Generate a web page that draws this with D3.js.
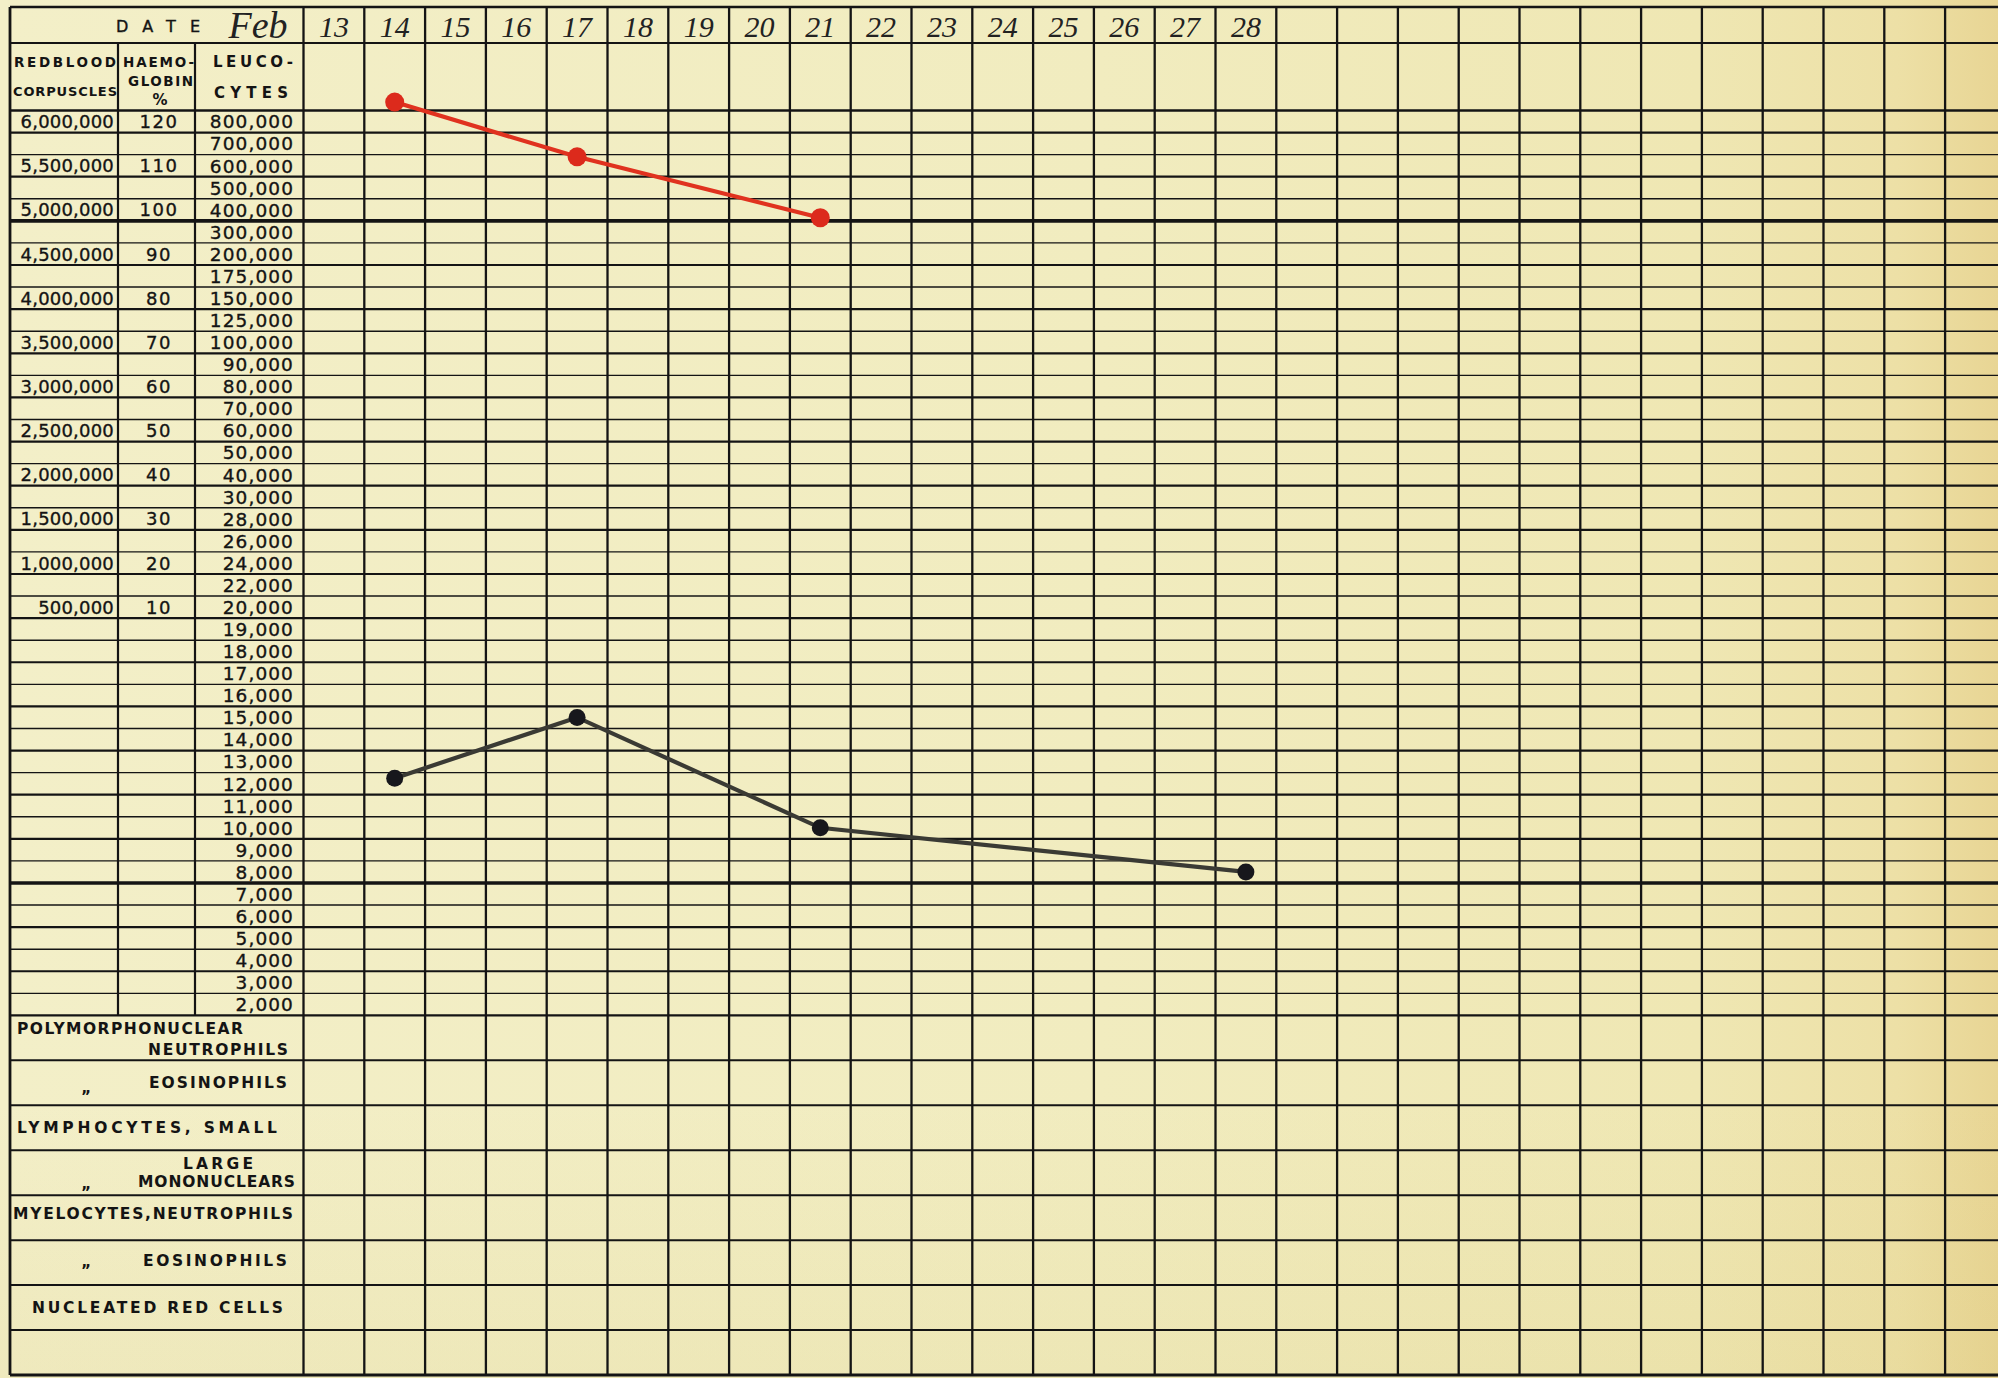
<!DOCTYPE html>
<html><head><meta charset="utf-8">
<script src="https://cdn.jsdelivr.net/npm/d3@7"></script>
<style>
html,body{margin:0;padding:0;background:#f1edc2;overflow:hidden;}
svg{display:block;}
</style></head><body>
<svg id="chart" width="1998" height="1378"></svg>
<script>
// ---------- DATA ----------
const monthLabel = "Feb";
const dateLabels = ["13","14","15","16","17","18","19","20","21","22","23","24","25","26","27","28"];
const blankColumnCount = 12;
const leucoTicks = [800000,700000,600000,500000,400000,300000,200000,175000,150000,125000,100000,
  90000,80000,70000,60000,50000,40000,30000,28000,26000,24000,22000,20000,19000,18000,17000,16000,
  15000,14000,13000,12000,11000,10000,9000,8000,7000,6000,5000,4000,3000,2000];
const rbcTicks = [6000000,5500000,5000000,4500000,4000000,3500000,3000000,2500000,2000000,1500000,1000000,500000];
const haemoTicks = [120,110,100,90,80,70,60,50,40,30,20,10];
const rbcDays = ["14","17","21"];
const rbcValues = [6220000, 5600000, 4910000];
const leucoDays = ["14","17","21","28"];
const leucoValues = [12250, 15000, 10000, 8000];
const headerLabels = ["DATE","REDBLOOD","CORPUSCLES","HAEMO-","GLOBIN","%","LEUCO-","CYTES"];
const differentialLabels = ["POLYMORPHONUCLEAR","NEUTROPHILS","EOSINOPHILS","LYMPHOCYTES, SMALL",
  "LARGE","MONONUCLEARS","MYELOCYTES,NEUTROPHILS","EOSINOPHILS","NUCLEATED RED CELLS"];
const dittoMark = "\u201D";

// ---------- LAYOUT ----------
const W = 1998, H = 1378;
const L = 10, C1 = 118, C2 = 195, C3 = 303.5;
const TOP = 7, DATE_BOTTOM = 43, HEAD_BOTTOM = 110.5, ROWS_BOTTOM = 1015.4, BOTTOM = 1375;
const COLW = 60.8;
const ink = "#141414";

const svg = d3.select("#chart");
const defs = svg.append("defs");
const grad = defs.append("linearGradient").attr("id","paper").attr("x1","0").attr("x2","1").attr("y1","0").attr("y2","0");
[["0%","#f3efc8"],["55%","#f1ecbf"],["85%","#efe7b3"],["95%","#ede0a6"],["100%","#e8d594"]]
  .forEach(([o,c]) => grad.append("stop").attr("offset",o).attr("stop-color",c));
const grad2 = defs.append("linearGradient").attr("id","paper2").attr("x1","0").attr("x2","0").attr("y1","0").attr("y2","1");
[["0%","rgba(200,180,90,0)"],["80%","rgba(200,180,90,0)"],["100%","rgba(200,180,90,0.10)"]]
  .forEach(([o,c]) => grad2.append("stop").attr("offset",o).attr("stop-color",c));
svg.append("rect").attr("width",W).attr("height",H).attr("fill","url(#paper)");
svg.append("rect").attr("width",W).attr("height",H).attr("fill","url(#paper2)");

const columns = dateLabels.concat(d3.range(blankColumnCount).map(i => "blank" + i));
const x = d3.scaleBand().domain(columns).range([C3, C3 + columns.length * COLW]);
const rowScale = d3.scaleLinear().domain([0, leucoTicks.length]).range([HEAD_BOTTOM, ROWS_BOTTOM]);
const rowCenter = i => rowScale(i + 0.5);
const yLeuco = d3.scaleLinear().domain(leucoTicks).range(leucoTicks.map((d,i) => rowCenter(i)));
const yRbc = d3.scaleLinear().domain(rbcTicks).range(rbcTicks.map((d,i) => rowCenter(2*i)));
const yHaemo = d3.scaleLinear().domain(haemoTicks).range(haemoTicks.map((d,i) => rowCenter(2*i)));
const bottomRows = 8;
const yBottom = d3.scaleLinear().domain([0, bottomRows]).range([ROWS_BOTTOM, BOTTOM]);

const grid = svg.append("g").attr("stroke", ink).attr("fill","none");

// horizontal row lines
const nRows = leucoTicks.length;
grid.selectAll("line.row").data(d3.range(0, nRows + 1)).join("line")
  .attr("x1", L).attr("x2", W)
  .attr("y1", k => rowScale(k)).attr("y2", k => rowScale(k))
  .attr("stroke-width", k => (k === 5 || k === 35) ? 3.6 : (k === 0 || k === nRows) ? 2.4 : (k % 2 === 1 ? 2.2 : 1.4));
// bottom (differential) rows
grid.selectAll("line.brow").data(d3.range(1, bottomRows)).join("line")
  .attr("x1", L).attr("x2", W)
  .attr("y1", k => yBottom(k)).attr("y2", k => yBottom(k))
  .attr("stroke-width", 2);
// top, date bottom, bottom border
[[TOP,2.6],[DATE_BOTTOM,2.2],[BOTTOM,2.8]].forEach(([y,w]) =>
  grid.append("line").attr("x1",L).attr("x2",W).attr("y1",y).attr("y2",y).attr("stroke-width",w));
// vertical lines
grid.append("line").attr("x1",L).attr("x2",L).attr("y1",TOP).attr("y2",BOTTOM).attr("stroke-width",2.8);
[C1, C2].forEach(cx => grid.append("line").attr("x1",cx).attr("x2",cx)
  .attr("y1",DATE_BOTTOM).attr("y2",ROWS_BOTTOM).attr("stroke-width",2.2));
grid.selectAll("line.col").data(columns).join("line")
  .attr("x1", d => x(d)).attr("x2", d => x(d))
  .attr("y1", TOP).attr("y2", BOTTOM).attr("stroke-width", 2.3);

// ---------- TEXT ----------
const sans = "'DejaVu Sans', 'Liberation Sans', sans-serif";
const hand = "'Liberation Serif', 'DejaVu Serif', serif";
const txt = svg.append("g").attr("fill", ink).attr("font-family", sans);

function fitText(str, x0, x1, yc, size, weight) {
  return txt.append("text").text(str)
    .attr("x", x0).attr("y", yc).attr("dy","0.36em")
    .attr("font-size", size).attr("font-weight", weight || "bold")
    .attr("textLength", x1 - x0).attr("lengthAdjust","spacing");
}
// header
fitText(headerLabels[0], 116, 200, 26, 16, "normal").attr("stroke", ink).attr("stroke-width", 0.4);
fitText(headerLabels[1], 14, 116, 62, 13.5);
fitText(headerLabels[2], 13, 117, 91, 13);
fitText(headerLabels[3], 123, 194, 62, 13.5);
fitText(headerLabels[4], 128, 193, 81, 13.5);
txt.append("text").text(headerLabels[5]).attr("x",160).attr("y",100).attr("dy","0.36em")
  .attr("text-anchor","middle").attr("font-size",15).attr("font-weight","bold");
fitText(headerLabels[6], 213, 293, 62, 15);
fitText(headerLabels[7], 214, 288, 93, 15);

// month + dates (handwritten)
txt.append("text").text(monthLabel).attr("x", 258).attr("y", 38).attr("text-anchor","middle")
  .attr("font-family", hand).attr("font-style","italic").attr("font-size", 38).attr("fill","#222");
txt.selectAll("text.date").data(dateLabels).join("text")
  .attr("x", d => x(d) + x.bandwidth()/2).attr("y", 37)
  .attr("text-anchor","middle").attr("font-family", hand).attr("font-style","italic")
  .attr("font-size", 30).attr("fill","#222").text(d => d);

// value labels
txt.selectAll("text.leuco").data(leucoTicks).join("text")
  .attr("x", 294).attr("y", d => yLeuco(d)).attr("dy","0.37em")
  .attr("text-anchor","end").attr("font-size", 18.5).attr("letter-spacing", 1.1)
  .attr("stroke", ink).attr("stroke-width", 0.35)
  .text(d => d3.format(",")(d));
txt.selectAll("text.rbc").data(rbcTicks).join("text")
  .attr("x", 114).attr("y", d => yRbc(d)).attr("dy","0.37em")
  .attr("text-anchor","end").attr("font-size", 18).attr("letter-spacing", 0.2)
  .attr("stroke", ink).attr("stroke-width", 0.35)
  .text(d => d3.format(",")(d));
txt.selectAll("text.haemo").data(haemoTicks).join("text")
  .attr("x", 159).attr("y", d => yHaemo(d)).attr("dy","0.37em")
  .attr("text-anchor","middle").attr("font-size", 18).attr("letter-spacing", 1.5)
  .attr("stroke", ink).attr("stroke-width", 0.35)
  .text(d => d);

// differential labels
const diffLayout = [
  [17, 243, 0.29], [148, 288, 0.76], [149, 287, 1.49], [17, 277, 2.5],
  [183, 253, 3.29], [138, 295, 3.69], [13, 293, 4.4], [143, 287, 5.45], [32, 283, 6.5]
];
differentialLabels.forEach((s, i) => {
  const [x0, x1, r] = diffLayout[i];
  fitText(s, x0, x1, yBottom(r), 15.5);
});
[1.7, 3.82, 5.56].forEach(r =>
  txt.append("text").text(dittoMark).attr("x", 86).attr("y", yBottom(r)).attr("dy","0.7em")
    .attr("text-anchor","middle").attr("font-size", 15).attr("font-weight","bold"));

// ---------- SERIES ----------
const cx = d => x(d) + x.bandwidth()/2;
const rbcPts = rbcDays.map((d,i) => [cx(d), yRbc(rbcValues[i])]);
const leucoPts = leucoDays.map((d,i) => [cx(d), yLeuco(leucoValues[i])]);
const lineGen = d3.line();
svg.append("path").attr("d", lineGen(rbcPts)).attr("fill","none")
  .attr("stroke","#e0321f").attr("stroke-width",4.2).attr("stroke-linecap","round");
svg.selectAll("circle.rbc").data(rbcPts).join("circle")
  .attr("cx", d => d[0]).attr("cy", d => d[1]).attr("r", 9.5).attr("fill","#dc2a1c");
svg.append("path").attr("d", lineGen(leucoPts)).attr("fill","none")
  .attr("stroke","#3a3a34").attr("stroke-width",4.2).attr("stroke-linecap","round");
svg.selectAll("circle.leuco").data(leucoPts).join("circle")
  .attr("cx", d => d[0]).attr("cy", d => d[1]).attr("r", 8.5).attr("fill","#17171c");
</script>
</body></html>
